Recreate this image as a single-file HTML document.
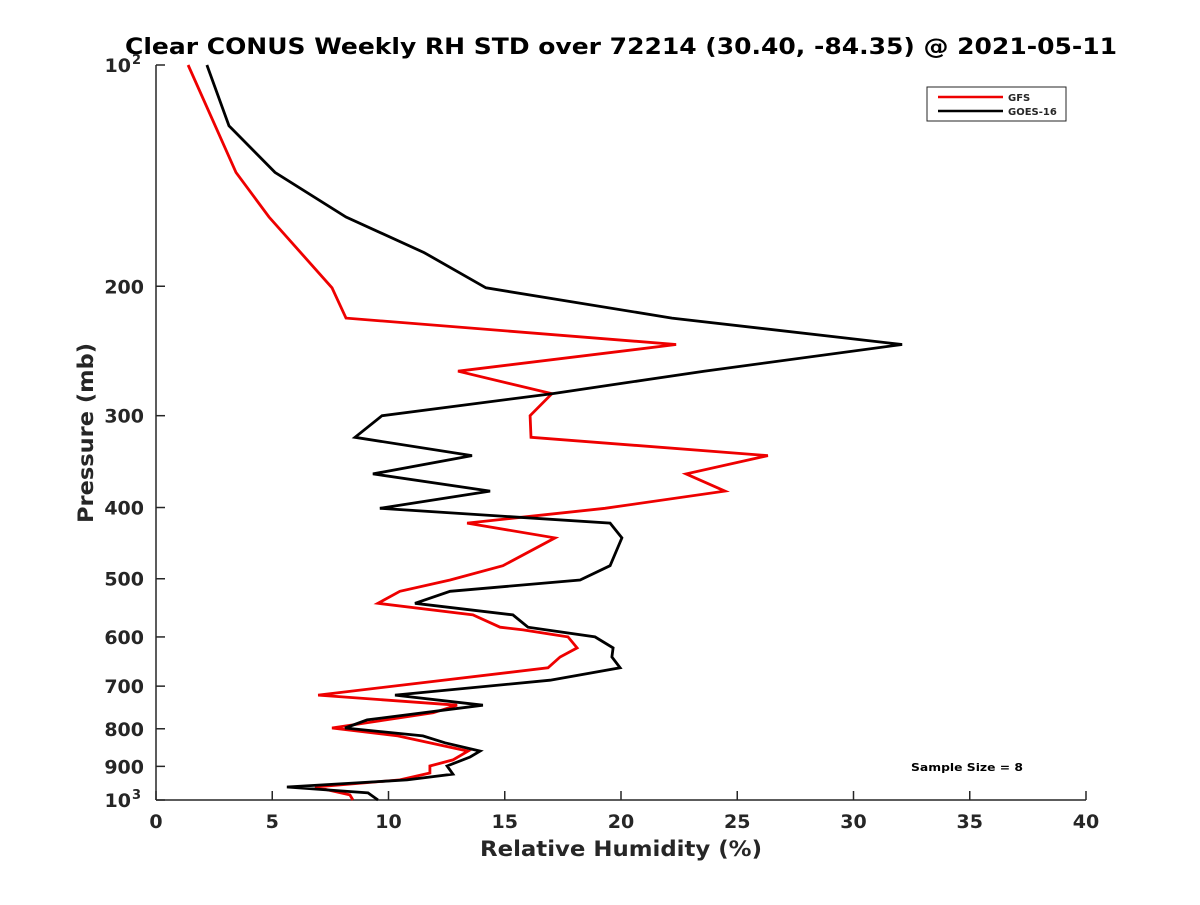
<!DOCTYPE html>
<html><head><meta charset="utf-8"><style>
body{margin:0;background:#fff;}
svg text{font-family:"DejaVu Sans","Liberation Sans",sans-serif;font-weight:bold;fill:#262626;}
</style></head><body>
<svg id="chart" width="1200" height="900" xmlns="http://www.w3.org/2000/svg">
<rect width="1200" height="900" fill="#fff"/>
<text x="621" y="54" font-size="22" text-anchor="middle" textLength="992" lengthAdjust="spacingAndGlyphs" style="fill:#000">Clear CONUS Weekly RH STD over 72214 (30.40, -84.35) @ 2021-05-11</text>
<g id="axes"></g>
<g id="series"></g>
<g>
<rect x="927" y="87" width="139" height="34" fill="#fff" stroke="#262626" stroke-width="1"/>
<line x1="938" y1="97" x2="1003" y2="97" stroke="#e00" stroke-width="2.5"/>
<text x="1008" y="101" font-size="10">GFS</text>
<line x1="938" y1="111" x2="1003" y2="111" stroke="#000" stroke-width="2.5"/>
<text x="1008" y="115" font-size="10">GOES-16</text>
</g>
<text x="967" y="771" font-size="11" text-anchor="middle" textLength="112" lengthAdjust="spacingAndGlyphs" style="fill:#000">Sample Size = 8</text>
<text x="621" y="856" font-size="21" text-anchor="middle" textLength="282" lengthAdjust="spacingAndGlyphs">Relative Humidity (%)</text>
<text transform="translate(93,433) rotate(-90)" font-size="21" text-anchor="middle" textLength="180" lengthAdjust="spacingAndGlyphs">Pressure (mb)</text>
</svg>
<script>
const xTicks=[0,5,10,15,20,25,30,35,40];
const yTicks=[100,200,300,400,500,600,700,800,900,1000];
const yTickLabels=["10|2","200","300","400","500","600","700","800","900","10|3"];
const goesP=[100,121,140,161,180,201,221,240,261,280,300,321,340,360,380,401,420,440,480,502,520,540,560,582,600,621,639,661,687,720,743,778,798,818,836,858,874,899,922,939,960,978,1000];
const goesRH=[2.19,3.14,5.12,8.17,11.53,14.19,22.19,32.09,23.57,17.03,9.72,8.56,13.59,9.33,14.37,9.63,19.53,20.04,19.53,18.24,12.65,11.14,15.35,16.0,18.88,19.66,19.61,19.96,16.95,10.28,14.06,9.08,8.13,11.48,12.43,13.94,13.51,12.52,12.77,10.80,5.63,9.12,9.55];
const gfsP=[100,140,161,201,221,240,261,280,300,321,340,360,380,401,420,440,480,502,520,540,560,582,587,600,621,639,661,720,743,761,798,818,858,882,899,919,939,960,984,1000];
const gfsRH=[1.38,3.44,4.86,7.57,8.17,22.37,12.99,17.03,16.09,16.13,26.32,22.8,24.47,19.31,13.38,17.16,14.92,12.65,10.49,9.55,13.63,14.80,15.79,17.72,18.11,17.38,16.86,6.97,12.95,11.92,7.57,10.4,13.42,12.77,11.78,11.78,10.49,6.84,8.34,8.47];
const NS="http://www.w3.org/2000/svg";
const X0=156,X1=1086,Y0=65,Y1=800;
function xs(v){return X0+(v-0)/(40-0)*(X1-X0);}
function ys(p){return Y0+(Math.log10(p)-2)*(Y1-Y0);}
function mk(tag,attrs,parent){const e=document.createElementNS(NS,tag);for(const k in attrs)e.setAttribute(k,attrs[k]);parent.appendChild(e);return e;}
const ax=document.getElementById('axes');
let l=mk('line',{x1:X0,y1:Y1,x2:X1,y2:Y1,stroke:'#262626','stroke-width':1.5},ax);


l=mk('line',{x1:X0,y1:Y0,x2:X0,y2:Y1,stroke:'#262626','stroke-width':1.5},ax);


xTicks.forEach(v=>{
  const t=mk('line',{x1:xs(v),y1:Y1,x2:xs(v),y2:Y1-9,stroke:'#262626','stroke-width':1.5},ax);
  
  
  const tx=mk('text',{x:xs(v),y:Y1+28,'font-size':19,'text-anchor':'middle'},ax);
  tx.textContent=v;
  
  
});
yTicks.forEach((p,i)=>{
  const t=mk('line',{x1:X0,y1:ys(p),x2:X0+9,y2:ys(p),stroke:'#262626','stroke-width':1.5},ax);
  
  
  const lab=yTickLabels[i];
  if(lab.indexOf('|')>=0){
    const parts=lab.split('|');
    const tx=mk('text',{x:X0-25,y:ys(p)+7,'font-size':19,'text-anchor':'end'},ax);
    tx.textContent=parts[0];
    
    
    const sup=mk('text',{x:X0-24,y:ys(p)-1,'font-size':13,'text-anchor':'start'},ax);
    sup.textContent=parts[1];
    
    
  } else {
    const tx=mk('text',{x:X0-12,y:ys(p)+7,'font-size':19,'text-anchor':'end'},ax);
    tx.textContent=lab;
    
    
  }
});
const sg=document.getElementById('series');
function draw(P,R,color,name){
  const pts=P.map((p,i)=>xs(R[i]).toFixed(1)+','+ys(p).toFixed(1)).join(' ');
  const pl=mk('polyline',{points:pts,fill:'none',stroke:color,'stroke-width':2.8,'stroke-linejoin':'miter'},sg);
  
  
}
draw(gfsP,gfsRH,'#e00','gfs-line');
draw(goesP,goesRH,'#000','goes16-line');
</script>
</body></html>
